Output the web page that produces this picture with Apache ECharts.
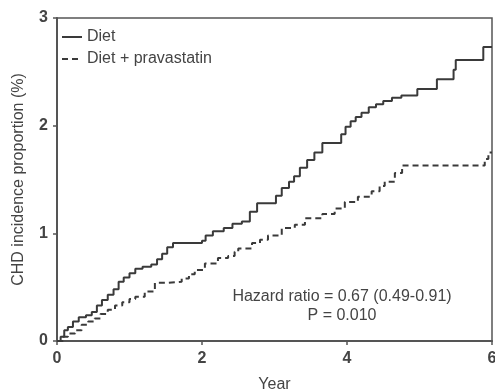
<!DOCTYPE html>
<html>
<head>
<meta charset="utf-8">
<script src="https://cdn.jsdelivr.net/npm/echarts@6/dist/echarts.min.js"></script>
<style>html,body{margin:0;padding:0;background:#fff}#c{width:495px;height:390px}</style>
</head>
<body>
<div id="c"></div>
<script>
const seriesNames = ['Diet', 'Diet + pravastatin'];
const xTicks = [0, 2, 4, 6];
const yTicks = [0, 1, 2, 3];
// [year, incidence %]
const dietValues = [
  [0,0],[0.05,0.04],[0.1,0.1],[0.15,0.13],[0.22,0.18],[0.3,0.22],[0.4,0.24],[0.48,0.27],
  [0.55,0.33],[0.62,0.38],[0.7,0.43],[0.78,0.48],[0.85,0.55],[0.92,0.59],[1.0,0.63],
  [1.08,0.67],[1.18,0.69],[1.3,0.71],[1.38,0.76],[1.45,0.81],[1.52,0.87],[1.6,0.91],
  [2.0,0.93],[2.05,0.98],[2.15,1.02],[2.3,1.05],[2.42,1.09],[2.55,1.11],[2.66,1.2],
  [2.76,1.28],[3.02,1.35],[3.1,1.42],[3.2,1.48],[3.27,1.53],[3.35,1.61],[3.45,1.68],
  [3.55,1.75],[3.66,1.84],[3.92,1.92],[3.98,1.99],[4.05,2.04],[4.12,2.08],[4.2,2.12],
  [4.3,2.17],[4.4,2.2],[4.5,2.23],[4.62,2.26],[4.75,2.28],[4.97,2.34],[5.24,2.43],
  [5.47,2.52],[5.5,2.61],[5.88,2.73],[6.0,2.73]
];
const pravaValues = [
  [0,0],[0.08,0.04],[0.15,0.07],[0.25,0.1],[0.34,0.15],[0.43,0.18],[0.52,0.21],[0.6,0.25],
  [0.7,0.29],[0.8,0.33],[0.9,0.36],[1.0,0.39],[1.08,0.41],[1.21,0.46],[1.35,0.54],
  [1.53,0.55],[1.72,0.58],[1.82,0.62],[1.9,0.66],[2.04,0.72],[2.22,0.77],[2.36,0.79],
  [2.45,0.83],[2.5,0.86],[2.69,0.91],[2.8,0.94],[2.91,0.98],[3.1,1.05],[3.28,1.08],
  [3.42,1.14],[3.66,1.18],[3.83,1.23],[3.97,1.29],[4.15,1.34],[4.34,1.39],[4.45,1.44],
  [4.52,1.48],[4.66,1.56],[4.76,1.63],[5.9,1.69],[5.95,1.75],[6.0,1.75]
];
const annotation = ['Hazard ratio = 0.67 (0.49-0.91)', 'P = 0.010'];

const chart = echarts.init(document.getElementById('c'), null, {renderer: 'canvas'});
const txt = '#444';
const font = 'Liberation Sans, Arial, sans-serif';
chart.setOption({
  animation: false,
  backgroundColor: '#fff',
  grid: {left: 57, right: 3, top: 18, bottom: 49, containLabel: false, outerBoundsMode: 'none',
         show: true, borderColor: '#555', borderWidth: 1.5, backgroundColor: 'transparent'},
  legend: {
    orient: 'vertical', left: 56, top: 24, itemWidth: 20, itemHeight: 16, itemGap: 6,
    textStyle: {color: txt, fontSize: 16, fontFamily: font},
    data: seriesNames.map(n => ({name: n, itemStyle: {opacity: 0}}))
  },
  xAxis: {
    type: 'value', min: xTicks[0], max: xTicks[xTicks.length - 1], interval: 2,
    name: 'Year', nameLocation: 'middle', nameGap: 36,
    nameTextStyle: {color: txt, fontSize: 16, fontFamily: font},
    axisLine: {lineStyle: {color: '#555', width: 2}},
    axisTick: {show: true, length: 4, lineStyle: {color: '#555', width: 1.5}},
    axisLabel: {color: txt, fontSize: 16, fontWeight: 'bold', fontFamily: font, margin: 10},
    splitLine: {show: false}
  },
  yAxis: {
    type: 'value', min: yTicks[0], max: yTicks[yTicks.length - 1], interval: 1,
    name: 'CHD incidence proportion (%)', nameLocation: 'middle', nameGap: 30,
    nameTextStyle: {color: txt, fontSize: 16, fontFamily: font},
    axisLine: {show: true, lineStyle: {color: '#555', width: 2}},
    axisTick: {show: true, length: 4, lineStyle: {color: '#555', width: 1.5}},
    axisLabel: {color: txt, fontSize: 16, fontWeight: 'bold', fontFamily: font, margin: 9},
    splitLine: {show: false}
  },
  graphic: [{
    type: 'text', x: 342, y: 287,
    style: {text: annotation.join('\n'), fill: txt, font: '16px ' + font, align: 'center', lineHeight: 19}
  }],
  series: [
    {name: seriesNames[0], type: 'line', step: 'end', symbol: 'none', data: dietValues,
     lineStyle: {color: '#3a3a3a', width: 2}, itemStyle: {color: '#3a3a3a'}},
    {name: seriesNames[1], type: 'line', step: 'end', symbol: 'none', data: pravaValues,
     lineStyle: {color: '#3a3a3a', width: 2, type: [6, 4]}, itemStyle: {color: '#3a3a3a'}}
  ]
});
</script>
</body>
</html>
